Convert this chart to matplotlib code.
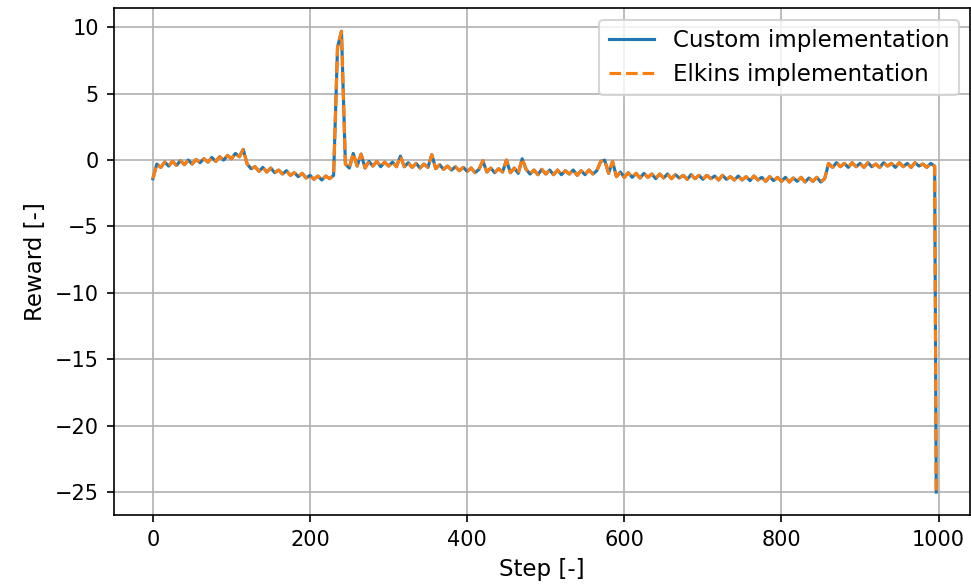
import numpy as np
import matplotlib
matplotlib.use("Agg")
import matplotlib.pyplot as plt

# reward logged every 5 steps (0..995), terminal step logged separately
custom_reward = [
    -1.4, -0.3, -0.55, -0.15, -0.45, -0.1, -0.4, -0.05, -0.35, 0.0,
    -0.3, 0.05, -0.2, 0.1, -0.15, 0.2, -0.1, 0.25, 0.0, 0.35,
    0.1, 0.5, 0.25, 0.8, -0.3, -0.65, -0.5, -0.85, -0.55, -0.9,
    -0.6, -0.95, -0.75, -1.05, -0.8, -1.15, -0.95, -1.25, -1.0, -1.35,
    -1.15, -1.45, -1.2, -1.5, -1.2, -1.4, -1.15, 8.5, 9.7, -0.3,
    -0.6, 0.5, -0.45, 0.45, -0.6, -0.1, -0.45, -0.1, -0.5, -0.15,
    -0.45, -0.15, -0.5, 0.3, -0.5, -0.2, -0.55, -0.25, -0.6, -0.3,
    -0.55, 0.4, -0.65, -0.35, -0.7, -0.45, -0.75, -0.5, -0.8, -0.55,
    -0.85, -0.6, -0.95, -0.7, -0.05, -0.9, -0.6, -0.95, -0.65, -0.9,
    0.0, -0.95, -0.6, -1.0, 0.1, -0.7, -1.05, -0.75, -1.1, -0.7,
    -1.05, -0.75, -1.1, -0.75, -1.1, -0.8, -1.05, -0.75, -1.15, -0.8,
    -1.1, -0.75, -1.05, -0.8, -0.1, 0.0, -1.0, -0.1, -1.25, -0.9,
    -1.3, -0.95, -1.3, -1.0, -1.35, -1.0, -1.3, -1.05, -1.4, -1.05,
    -1.35, -1.05, -1.4, -1.1, -1.35, -1.15, -1.45, -1.1, -1.4, -1.15,
    -1.45, -1.15, -1.4, -1.2, -1.5, -1.15, -1.45, -1.25, -1.5, -1.2,
    -1.5, -1.25, -1.55, -1.2, -1.5, -1.3, -1.6, -1.25, -1.55, -1.3,
    -1.6, -1.3, -1.65, -1.35, -1.6, -1.3, -1.65, -1.35, -1.6, -1.3,
    -1.65, -1.4, -0.25, -0.55, -0.2, -0.5, -0.25, -0.55, -0.2, -0.5,
    -0.25, -0.55, -0.2, -0.5, -0.3, -0.55, -0.2, -0.45, -0.25, -0.55,
    -0.2, -0.5, -0.25, -0.55, -0.2, -0.45, -0.3, -0.55, -0.25, -0.45,
]
final_step = 997
final_reward = -25.0

# both environments give the same reward trace
elkins_reward = list(custom_reward)

steps = np.append(np.arange(0, 1000, 5), final_step)
custom = np.append(custom_reward, final_reward)
elkins = np.append(elkins_reward, final_reward)

fig, ax = plt.subplots(figsize=(971 / 150, 588 / 150), dpi=150)
fig.subplots_adjust(left=0.117, right=0.999, top=0.986, bottom=0.124)

ax.plot(steps, custom, color="#1f77b4", linewidth=1.5, label="Custom implementation")
ax.plot(steps, elkins, color="#ff7f0e", linewidth=1.5, linestyle="--",
        label="Elkins implementation")

ax.set_xlim(-50, 1040)
ax.set_xlabel("Step [-]", fontsize=11)
ax.set_ylabel("Reward [-]", fontsize=11)
ax.tick_params(labelsize=10)
ax.grid(True)
ax.legend(loc="upper right", fontsize=11)

fig.savefig("out.png", dpi=150)
